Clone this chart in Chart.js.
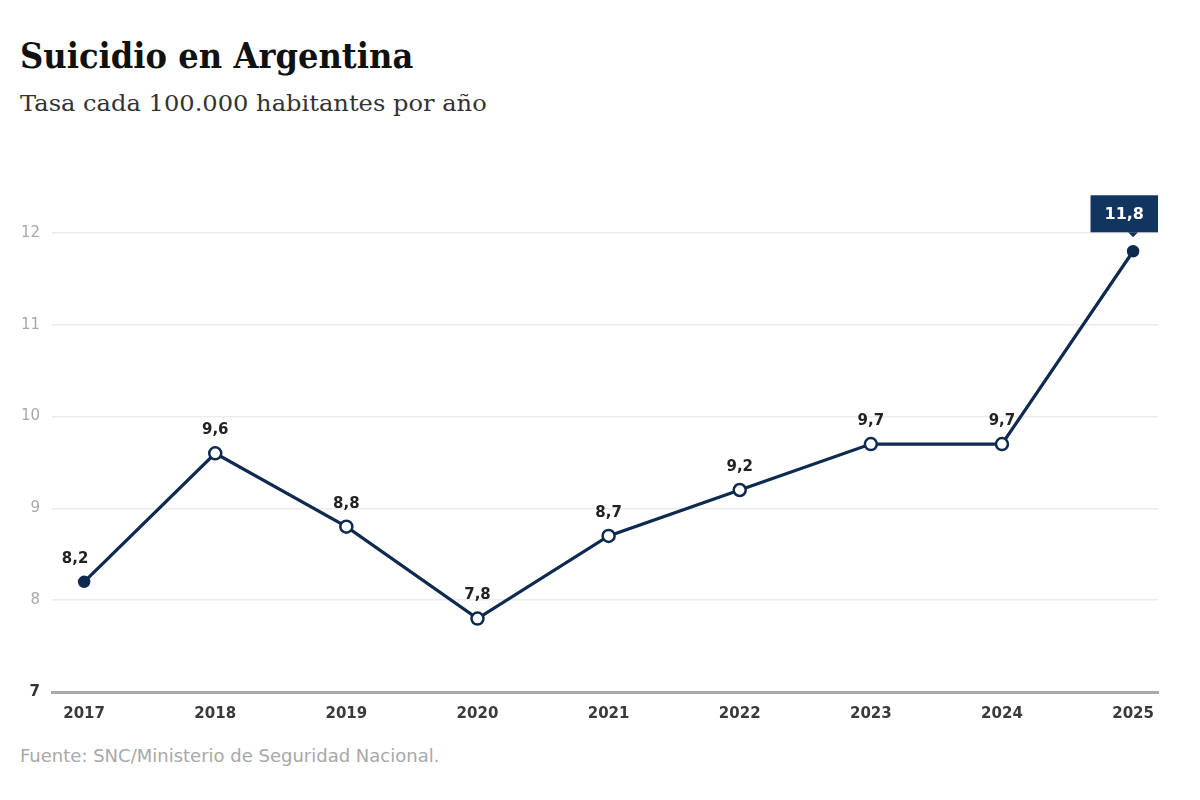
<!DOCTYPE html>
<html>
<head>
<meta charset="utf-8">
<script src="https://cdn.jsdelivr.net/npm/chart.js@4"></script>
<style>
    html, body { margin: 0; padding: 0; background: #ffffff; }
    body { width: 1200px; height: 800px; position: relative; overflow: hidden; }
    .title { position: absolute; left: 20px; top: 34px; font-family: "DejaVu Serif", serif; font-weight: bold; font-size: 36px; color: #111111; white-space: nowrap; transform: scaleX(0.895); transform-origin: left top; }
    .subtitle { position: absolute; left: 20px; top: 90px; font-family: "DejaVu Serif", serif; font-size: 23px; color: #333333; white-space: nowrap; transform: scaleX(1.05); transform-origin: left top; }
    .chart_box { position: absolute; left: 0; top: 140px; width: 1200px; height: 600px; }
    .source { position: absolute; left: 20px; top: 745px; font-family: "DejaVu Sans", sans-serif; font-size: 18px; color: #a8a8a8; white-space: nowrap; }
</style>
</head>
<body>
<div class="title">Suicidio en Argentina</div>
<div class="subtitle">Tasa cada 100.000 habitantes por año</div>
<div class="chart_box"><canvas class="rate_chart" width="1200" height="600"></canvas></div>
<div class="source">Fuente: SNC/Ministerio de Seguridad Nacional.</div>
<script>
"use strict";
// Data
const years = [2017, 2018, 2019, 2020, 2021, 2022, 2023, 2024, 2025];
const rates = [8.2, 9.6, 8.8, 7.8, 8.7, 9.2, 9.7, 9.7, 11.8];
const y_ticks = [7, 8, 9, 10, 11, 12];

const navy = "#0e2a4e";
const last_index = rates.length - 1;
const sans = "'DejaVu Sans', sans-serif";

function formatRate(value) {
    return value.toFixed(1).replace(".", ",");
}

// Value Labels Above Points
const value_labels = {
    id: "valueLabels",
    afterDatasetsDraw(chart) {
        const { ctx, chartArea } = chart;
        const meta = chart.getDatasetMeta(0);
        ctx.save();
        meta.data.forEach(function (point, index) {
            const text = formatRate(rates[index]);
            if (index === last_index) {
                // Highlighted box for the last value, kept inside the chart area
                ctx.font = "bold 16px " + sans;
                const box_width = ctx.measureText(text).width + 28;
                const box_height = 37;
                const box_bottom = point.y - 19;
                const box_left = Math.min(point.x - box_width / 2, chartArea.right - box_width);
                ctx.fillStyle = "#12355f";
                ctx.fillRect(box_left, box_bottom - box_height, box_width, box_height);
                ctx.beginPath();
                ctx.moveTo(point.x - 5, box_bottom);
                ctx.lineTo(point.x + 5, box_bottom);
                ctx.lineTo(point.x, box_bottom + 5);
                ctx.closePath();
                ctx.fill();
                ctx.fillStyle = "#ffffff";
                ctx.textAlign = "center";
                ctx.textBaseline = "middle";
                ctx.fillText(text, box_left + box_width / 2, box_bottom - box_height / 2 + 1);
            }
            else {
                ctx.font = "bold 15px " + sans;
                ctx.fillStyle = "#222222";
                ctx.textAlign = "center";
                ctx.textBaseline = "middle";
                const shift = index === 0 ? -9 : 0;
                ctx.fillText(text, point.x + shift, point.y - 23);
            }
        });
        ctx.restore();
    }
};

const rate_chart = document.querySelector(".rate_chart");
new Chart(rate_chart, {
    type: "line",
    data: {
        datasets: [{
            label: "Tasa",
            data: years.map(function (year, index) {
                return { x: year, y: rates[index] };
            }),
            borderColor: navy,
            borderWidth: 3.2,
            pointRadius: function (context) {
                return (context.dataIndex === 0 || context.dataIndex === last_index) ? 5 : 6;
            },
            pointBackgroundColor: function (context) {
                return (context.dataIndex === 0 || context.dataIndex === last_index) ? navy : "#ffffff";
            },
            pointBorderColor: navy,
            pointBorderWidth: 2.5,
            tension: 0,
            clip: false,
        }]
    },
    options: {
        responsive: false,
        animation: false,
        layout: {
            padding: { top: 47, right: 42, bottom: 0, left: 0 }
        },
        scales: {
            x: {
                type: "linear",
                min: 2016.755,
                max: 2025.19,
                afterFit: function (scale) { scale.height = 48; },
                afterBuildTicks: function (scale) {
                    scale.ticks = years.map(function (year) { return { value: year }; });
                },
                grid: { display: false, drawTicks: false },
                border: { display: true, color: "#a9a9a9", width: 3 },
                ticks: {
                    padding: 13,
                    color: "#3a3a3a",
                    font: { family: sans, size: 15, weight: "bold" },
                    callback: function (value) { return String(value); }
                }
            },
            y: {
                min: 7,
                max: 12.5,
                afterFit: function (scale) { scale.width = 52; },
                afterBuildTicks: function (scale) {
                    scale.ticks = y_ticks.map(function (value) { return { value: value }; });
                },
                grid: {
                    drawTicks: false,
                    color: function (context) {
                        return context.tick && context.tick.value === 7 ? "rgba(0,0,0,0)" : "#ebebeb";
                    },
                    lineWidth: 1.5,
                },
                border: { display: false },
                ticks: {
                    padding: 12,
                    color: function (context) {
                        return context.tick && context.tick.value === 7 ? "#333333" : "#a8a8a8";
                    },
                    font: function (context) {
                        const is_base = context.tick && context.tick.value === 7;
                        return { family: sans, size: 15, weight: is_base ? "bold" : "normal" };
                    }
                }
            }
        },
        plugins: {
            legend: { display: false },
            tooltip: { enabled: false },
        }
    },
    plugins: [value_labels],
});
</script>
</body>
</html>
